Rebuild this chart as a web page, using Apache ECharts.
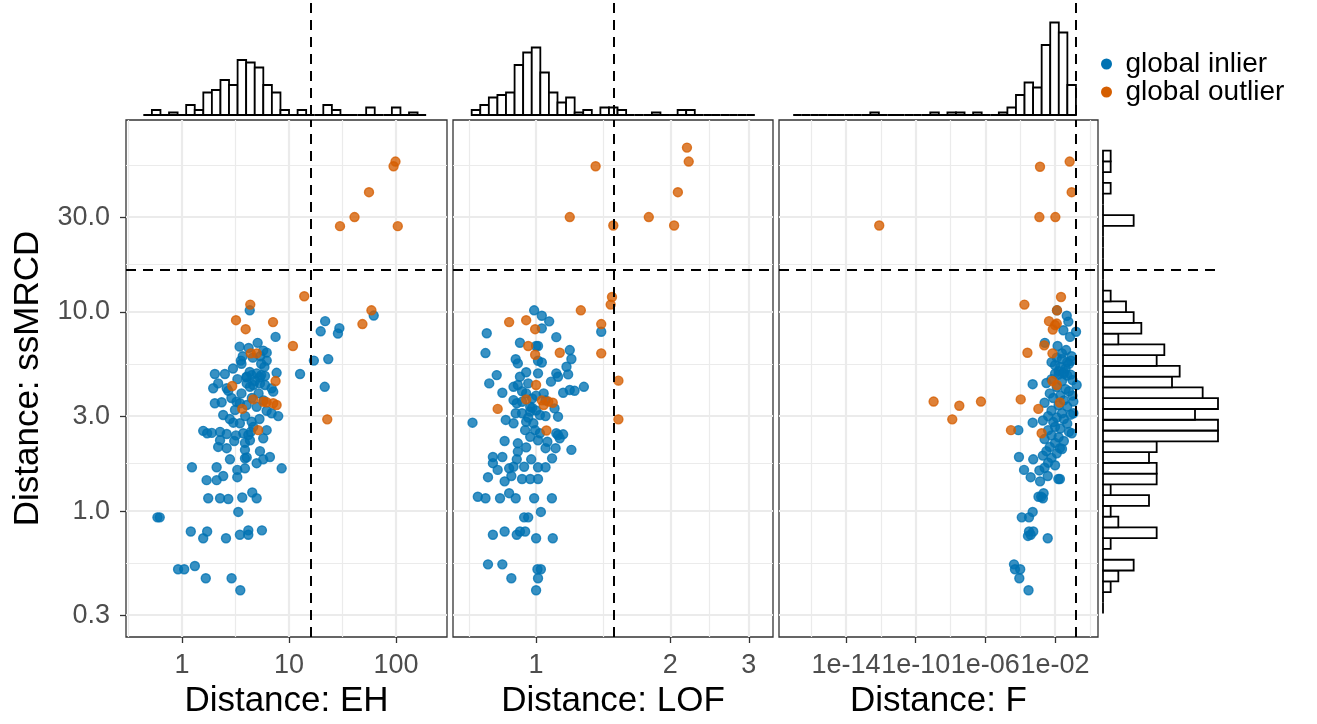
<!DOCTYPE html>
<html>
<head>
<meta charset="utf-8">
<script src="https://cdn.jsdelivr.net/npm/echarts@6/dist/echarts.min.js"></script>
<style>
  html, body { margin: 0; padding: 0; background: #fff; }
  #chart { width: 1317px; height: 724px; }
</style>
</head>
<body>
<div id="chart"></div>
<script>
// tick marks of the axes
const yTicks = [0.3, 1, 3, 10, 30];
const yMinor = [0.548, 1.73, 5.48, 17.3, 54.8];
const ehTicks = [1, 10, 100];
const ehMinor = [0.316, 3.16, 31.6];
const lofTicks = [1, 2, 3];
const lofMinor = [0.707, 1.414, 2.449];
const fTicks = [1e-14, 1e-10, 1e-6, 1e-2];
const fMinor = [1e-16, 1e-12, 1e-8, 1e-4, 1];

// cut-off values (dashed lines)
const cutEH = 16, cutLOF = 1.49, cutF = 0.16, cutSS = 16.3;

// points: [distance, ssMRCD]
const ehInlier = [
  [4.3,10.2],[62,9.6],[21.8,9.0],[19.8,8.0],[29.6,8.3],[28.7,7.8],[7.5,7.5],[3.46,6.7],[5.1,7.0],[5.75,6.4],
  [6.2,6.25],[3.55,5.7],[3.6,5.5],[6.2,5.7],[5.5,5.5],[5.9,5.3],[17.1,5.7],[23.3,5.8],[4.3,5.0],[4.0,4.7],[5.35,4.7],
  [2.03,4.88],[2.52,4.88],[4.03,4.73],[4.48,4.82],[4.99,4.92],[5.5,4.82],[5.97,4.77],[7.67,4.95],[12.7,4.88],[21.6,4.21],
  [2.18,4.38],[2.62,4.14],[2.71,4.02],[1.96,4.14],[4.03,4.38],[4.32,4.21],[4.64,4.30],[5.36,4.38],[5.97,4.30],[6.89,4.14],[7.13,3.98],
  [2.03,3.48],[2.35,3.52],[3.24,3.54],[3.48,3.48],[4.03,3.41],[3.13,3.22],[4.99,3.34],[6.19,3.19],[6.89,3.10],[7.94,3.00],
  [2.43,3.04],[3.02,2.78],[3.48,2.76],[4.48,2.81],[4.64,2.65],[1.58,2.53],[1.72,2.46],[1.90,2.47],[2.27,2.50],[2.62,2.44],
  [3.74,2.46],[4.17,2.41],[5.75,2.32],[6.19,2.55],[2.27,2.27],[2.18,2.10],[2.62,2.07],[3.08,2.25],[3.88,2.20],[4.32,2.27],
  [3.88,2.03],[5.36,2.00],[2.81,1.82],[3.88,1.84],[4.03,1.86],[4.99,1.74],[5.75,1.82],[6.64,1.87],[8.55,1.64],[1.24,1.66],
  [2.11,1.66],[1.70,1.43],[2.11,1.43],[2.43,1.50],[3.29,1.48],[3.29,1.61],[3.88,1.64],[1.76,1.16],[2.27,1.16],[2.71,1.15],
  [3.66,1.17],[4.54,1.24],[4.99,1.16],[3.36,0.99],[0.59,0.93],[0.62,0.93],[1.21,0.79],[1.72,0.79],[1.58,0.73],[2.58,0.73],
  [3.48,0.76],[4.17,0.80],[4.17,0.76],[5.59,0.80],[0.92,0.51],[1.05,0.51],[1.32,0.53],[1.67,0.46],[2.91,0.46],[3.51,0.40],
  [3.7,6.0],[4.6,5.9],[4.2,6.6],[5.4,6.0],[3.0,5.2],[3.3,4.6],[4.8,4.5],[5.2,3.9],[3.6,3.9],[2.9,3.7],
  [4.5,3.7],[5.8,3.6],[3.9,3.0],[5.3,2.9],[2.8,2.9],[4.4,2.5],[3.2,2.4]
];
const ehOutlier = [
  [99,57],[95,54],[56,40],[41,30],[30,27],[104,27],[13.9,12],[4.35,10.9],[59,10.2],[3.2,9.1],
  [7.1,8.9],[3.94,8.2],[48.6,8.7],[10.9,6.75],[4.4,6.2],[5.0,6.2],[7.5,4.5],[2.95,4.25],[4.64,3.64],[5.75,3.54],
  [6.19,3.52],[7.13,3.48],[7.67,3.41],[3.66,3.26],[22.8,2.89],[5.16,2.55]
];
const lofInlier = [
  [0.99,10.2],[1.03,9.58],[1.07,8.98],[1.03,8.28],[0.775,7.82],[0.92,7.01],[1.11,7.48],[1.0,6.75],[1.01,6.75],[0.77,6.22],
  [0.90,5.79],[0.91,5.52],[1.01,5.69],[1.03,5.58],[1.19,6.44],[1.20,5.81],[1.17,5.31],[1.40,7.96],[0.816,4.82],[0.95,4.98],
  [0.92,4.73],[1.11,4.92],[1.18,4.86],[1.01,4.92],
  [0.785,4.38],[0.84,3.93],[0.89,4.21],[0.91,4.30],[0.96,4.38],[1.08,4.47],[1.12,4.73],[1.15,3.93],[1.19,4.06],[1.22,4.02],[1.28,4.21],
  [0.89,3.61],[0.93,3.54],[0.905,3.48],[0.98,3.68],[0.97,3.34],[0.90,3.10],[0.93,3.10],[0.97,3.16],[1.02,3.04],[1.05,3.00],
  [1.10,3.28],[1.12,2.98],[0.72,2.78],[0.855,2.87],[0.89,2.76],[0.95,2.81],[0.986,2.76],[0.945,2.55],[0.995,2.55],[1.02,2.46],
  [0.97,2.36],[1.01,2.27],[1.06,2.23],[1.12,2.41],[1.13,2.32],[1.11,2.46],[1.15,2.43],[0.85,2.25],[0.91,2.19],[0.95,2.09],
  [0.91,1.99],[1.05,2.07],[1.106,2.07],[1.20,2.03],[0.80,1.87],[0.84,1.87],[0.905,1.82],[0.975,1.82],[0.80,1.74],[0.82,1.61],
  [0.87,1.64],[0.89,1.67],[0.94,1.67],[1.01,1.66],[1.05,1.66],[1.086,1.84],[0.78,1.48],[0.85,1.41],[0.88,1.50],[0.93,1.45],
  [0.97,1.45],[1.01,1.45],[0.74,1.18],[0.77,1.16],[0.83,1.16],[0.87,1.23],[0.90,1.16],[0.99,1.16],[1.085,1.16],[1.025,0.99],
  [0.94,0.93],[0.96,0.93],[0.80,0.76],[0.85,0.79],[0.905,0.76],[0.92,0.79],[0.945,0.79],[1.0,0.73],[1.09,0.73],[0.78,0.54],
  [0.84,0.54],[1.007,0.51],[1.025,0.51],[0.88,0.46],[1.01,0.46],[1.0,0.40],
  [0.95,3.9],[1.0,3.8],[0.98,3.3],[1.04,3.9],[0.93,4.0],[1.0,3.2],[0.96,2.95],[1.05,3.6]
];
const lofOutlier = [
  [2.18,67],[2.20,57],[1.36,54],[2.08,40],[1.19,30],[1.79,30],[1.49,27.2],[2.04,27.2],[1.48,11.9],[1.47,10.9],
  [1.26,10.2],[1.40,8.7],[0.87,8.9],[0.95,9.1],[0.995,8.2],[0.96,6.75],[1.13,6.24],[1.40,6.2],[0.995,6.1],[1.53,4.52],
  [1.53,2.89],[1.0,4.30],[0.95,3.64],[1.03,3.6],[1.065,3.55],[1.09,3.5],[1.04,3.41],[0.82,3.26],[1.055,2.54]
];
const fInlier = [
  [1.29e-2,10.2],[4.7e-2,9.58],[5.8e-2,8.95],[3.0e-2,8.1],[7.2e-2,7.5],[1.6e-1,7.96],[2.6e-3,7.0],[1.4e-2,6.75],[4.3e-2,6.44],[8.3e-2,5.69],
  [1.26e-2,5.9],[2.5e-2,5.8],[5.0e-2,5.6],[1.0e-2,5.4],[2.0e-2,5.3],[4.0e-2,5.2],[6.3e-2,5.5],[1.6e-2,5.05],[3.2e-2,5.0],[8.9e-2,6.0],
  [2.5e-2,6.2],[6.3e-3,5.6],[5.2e-4,4.34],[1.74e-1,4.3],[1.12e-1,3.55],[1.12e-1,3.1],[9.1e-2,2.46],[5.2e-4,2.78],[7.8e-5,2.55],[8.5e-5,1.87],
  [5.6e-4,1.82],[1.66e-4,1.61],[4.0e-4,1.48],[1.38e-3,1.41],[3.8e-3,1.50],[1.55e-2,1.45],[1.9e-2,1.45],[1.9e-2,2.07],[1.6e-3,1.18],[2.0e-3,1.16],
  [1.12e-3,1.18],[2.2e-3,1.23],[5.2e-4,0.99],[1.23e-4,0.93],[3.2e-4,0.93],[3.2e-4,0.79],[5.6e-4,0.79],[4.0e-4,0.76],[2.8e-4,0.75],[3.8e-3,0.73],
  [4.4e-5,0.54],[1.0e-4,0.51],[5.0e-5,0.51],[8.9e-5,0.46],[3.0e-4,0.40],
  [1.0e-2,4.9],[1.6e-2,4.85],[3.2e-2,4.9],[5.0e-2,4.8],[7.9e-2,4.85],[6.3e-3,4.6],[2.5e-2,4.5],[1.0e-1,4.55],[3.2e-3,4.4],[1.26e-2,4.2],
  [4.0e-2,4.1],[6.3e-2,4.0],[5.0e-3,3.9],[2.0e-2,3.8],[1.0e-1,3.8],[7.9e-3,3.7],[3.2e-2,3.6],[2.5e-3,3.5],[1.6e-2,3.4],[5.0e-2,3.35],
  [6.3e-3,3.2],[2.5e-2,3.1],[7.9e-2,3.05],[4.0e-3,3.0],[1.26e-2,2.95],[3.2e-2,2.9],[2.0e-3,2.85],[7.9e-3,2.8],[5.0e-2,2.75],[1.0e-2,2.65],
  [2.0e-2,2.6],[4.0e-3,2.55],[6.3e-2,2.5],[6.3e-3,2.4],[1.6e-2,2.35],[2.5e-3,2.3],[3.2e-2,2.25],[1.0e-2,2.2],[5.0e-3,2.1],[2.5e-2,2.05],
  [3.2e-3,2.0],[1.26e-2,1.95],[2.0e-3,1.9],[6.3e-3,1.85],[4.0e-3,1.75],[1.0e-2,1.7],[2.5e-3,1.65],[1.26e-3,1.6]
];
const fOutlier = [
  [1.37e-3,53.7],[6.9e-2,57],[9.0e-2,40],[1.26e-3,30],[1.04e-2,30],[8.1e-13,27.2],[2.2e-2,11.9],[1.74e-4,10.9],[1.29e-2,10.2],[4.5e-3,9.0],
  [1.26e-2,8.75],[1.0e-2,8.6],[7.4e-3,8.17],[2.4e-3,6.8],[2.6e-4,6.24],[7.1e-3,6.2],[7.1e-3,4.5],[1.26e-2,4.3],[1.07e-9,3.55],[3.2e-8,3.38],
  [5.6e-7,3.55],[1.07e-4,3.64],[1.1e-3,3.26],[1.26e-8,2.89],[2.95e-5,2.55],[1.7e-3,2.46],[1.9e-2,3.51]
];

// marginal histograms: first bin edge (log10), bin width (log10), counts
const ehHistStart = -0.361, ehHistStep = 0.0801;
const ehHistCounts = [0,2,0,1,0,4,2,9,10,14,12,22,21,19,12,9,2,0,2,0,0,4,2,0,0,0,3,0,0,3,0,1,0];
const lofHistStart = -0.1445, lofHistStep = 0.01925;
const lofHistCounts = [2,4,7,8,9,20,25,27,17,9,5,7,1,2,0,3,3,2,0,0,0,1,0,0,2,2,0,0,0,0,0,0,0];
const fHistStart = -17.03, fHistStep = 0.4918;
const fHistCounts = [0,0,0,0,0,0,0,0,0,1,0,0,0,0,0,0,1,0,1,1,0,1,0,0,1,3,8,13,11,28,37,33,12];
const ssHistStart = -0.515, ssHistStep = 0.0541;   // bottom to top
const ssHistCounts = [0,0,1,2,4,0,1,7,2,1,6,1,7,7,6,7,15,15,12,15,13,9,10,7,8,2,5,4,3,1,0,0,0,0,0,0,4,0,0,1,0,1,1];

const FONT = '"Liberation Sans", Arial, sans-serif';
const BLUE = '#0072B2', ORANGE = '#D55E00';
const TOP = 120, HEIGHT = 517;
const Y_MIN = 0.233, Y_MAX = 92.2;

function sciLabel(v) {
  const e = Math.round(Math.log10(v));
  return '1e' + (e < 0 ? '-' : '+') + String(Math.abs(e)).padStart(2, '0');
}
function bins(start, step, counts) {
  return counts.map((c, i) => [Math.pow(10, start + i * step), Math.pow(10, start + (i + 1) * step), c]);
}
const dashed = { type: [10, 7], color: '#000', width: 2 };

const panels = [
  { name: 'Distance: EH', left: 126, width: 321, min: 0.3, max: 300, ticks: ehTicks, minor: ehMinor,
    fmt: v => String(Math.round(v)), inl: ehInlier, out: ehOutlier, cut: cutEH,
    hist: bins(ehHistStart, ehHistStep, ehHistCounts) },
  { name: 'Distance: LOF', left: 453, width: 320, min: 0.651, max: 3.40, ticks: lofTicks, minor: lofMinor,
    fmt: v => String(Math.round(v)), inl: lofInlier, out: lofOutlier, cut: cutLOF,
    hist: bins(lofHistStart, lofHistStep, lofHistCounts) },
  { name: 'Distance: F', left: 779, width: 319, min: 1.43e-18, max: 2.92, ticks: fTicks, minor: fMinor,
    fmt: sciLabel, inl: fInlier, out: fOutlier, cut: cutF,
    hist: bins(fHistStart, fHistStep, fHistCounts) }
];

function topHist(params, api) {
  const a = api.coord([api.value(0), 0]);
  const b = api.coord([api.value(1), api.value(2)]);
  return { type: 'rect', shape: { x: a[0], y: b[1], width: b[0] - a[0], height: a[1] - b[1] },
    style: { fill: '#fff', stroke: '#000', lineWidth: 1.8 } };
}
function sideHist(params, api) {
  const a = api.coord([0, api.value(0)]);
  const b = api.coord([api.value(2), api.value(1)]);
  return { type: 'rect', shape: { x: a[0], y: b[1], width: b[0] - a[0], height: a[1] - b[1] },
    style: { fill: '#fff', stroke: '#000', lineWidth: 1.8 } };
}

const grid = [], xAxis = [], yAxis = [], series = [];
panels.forEach(p => grid.push({ left: p.left, top: TOP, width: p.width, height: HEIGHT, show: true,
  borderColor: '#333', borderWidth: 1.3, backgroundColor: 'transparent' }));
panels.forEach(p => grid.push({ left: p.left, top: 0, width: p.width, height: 115 }));
grid.push({ left: 1103, top: TOP, width: 115, height: HEIGHT });

// major x axes
panels.forEach((p, i) => xAxis.push({
  type: 'log', logBase: 10, gridIndex: i, min: p.min, max: p.max,
  name: p.name, nameLocation: 'middle', nameGap: 46,
  nameTextStyle: { fontSize: 35, color: '#000', fontFamily: FONT },
  axisLine: { show: false },
  axisTick: { show: true, length: 6, customValues: p.ticks, lineStyle: { color: '#333', width: 1.3 } },
  axisLabel: { customValues: p.ticks, formatter: p.fmt, fontSize: 27, color: '#4d4d4d', margin: 15, fontFamily: FONT },
  splitLine: { show: true, lineStyle: { color: '#ebebeb', width: 2.2 } }
}));
// minor x grid lines
panels.forEach((p, i) => xAxis.push({
  type: 'log', logBase: 10, gridIndex: i, min: p.min, max: p.max, position: 'bottom',
  axisLine: { show: false }, axisTick: { show: false, customValues: p.minor },
  axisLabel: { show: false, customValues: p.minor },
  splitLine: { show: true, lineStyle: { color: '#ebebeb', width: 1.2 } }
}));
// histogram x axes
panels.forEach((p, i) => xAxis.push({ type: 'log', logBase: 10, gridIndex: 3 + i, min: p.min, max: p.max, show: false }));
xAxis.push({ type: 'value', gridIndex: 6, min: 0, max: 15, show: false });

// major y axes
panels.forEach((p, i) => yAxis.push({
  type: 'log', logBase: 10, gridIndex: i, min: Y_MIN, max: Y_MAX,
  name: i === 0 ? 'Distance: ssMRCD' : '', nameLocation: 'middle', nameGap: 80, nameRotate: 90,
  nameTextStyle: { fontSize: 35, color: '#000', fontFamily: FONT },
  axisLine: { show: false },
  axisTick: { show: i === 0, length: 6, customValues: yTicks, lineStyle: { color: '#333', width: 1.3 } },
  axisLabel: { show: i === 0, customValues: yTicks, formatter: v => v.toFixed(1), fontSize: 27,
    color: '#4d4d4d', margin: 16, fontFamily: FONT },
  splitLine: { show: true, lineStyle: { color: '#ebebeb', width: 2.2 } }
}));
panels.forEach((p, i) => yAxis.push({
  type: 'log', logBase: 10, gridIndex: i, min: Y_MIN, max: Y_MAX, position: 'left',
  axisLine: { show: false }, axisTick: { show: false, customValues: yMinor },
  axisLabel: { show: false, customValues: yMinor },
  splitLine: { show: true, lineStyle: { color: '#ebebeb', width: 1.2 } }
}));
panels.forEach((p, i) => yAxis.push({ type: 'value', gridIndex: 3 + i, min: 0, max: 46, show: false }));
yAxis.push({ type: 'log', logBase: 10, gridIndex: 6, min: Y_MIN, max: Y_MAX, show: false });

panels.forEach((p, i) => {
  series.push({ type: 'scatter', name: 'global inlier', xAxisIndex: i, yAxisIndex: i, data: p.inl,
    symbolSize: 9, itemStyle: { color: BLUE, opacity: 0.78, borderColor: BLUE, borderWidth: 1.4 } });
  series.push({ type: 'scatter', name: 'global outlier', xAxisIndex: i, yAxisIndex: i, data: p.out,
    symbolSize: 9, itemStyle: { color: ORANGE, opacity: 0.78, borderColor: ORANGE, borderWidth: 1.4 },
    markLine: { silent: true, symbol: 'none', label: { show: false }, lineStyle: dashed,
      data: [{ xAxis: p.cut }, { yAxis: cutSS }] } });
  series.push({ type: 'custom', xAxisIndex: 6 + i, yAxisIndex: 6 + i, renderItem: topHist,
    encode: { x: [0, 1], y: 2 }, data: p.hist,
    markLine: { silent: true, symbol: 'none', label: { show: false }, lineStyle: dashed, data: [{ xAxis: p.cut }] } });
});
series.push({ type: 'custom', xAxisIndex: 9, yAxisIndex: 9, renderItem: sideHist,
  encode: { y: [0, 1], x: 2 }, data: bins(ssHistStart, ssHistStep, ssHistCounts),
  markLine: { silent: true, symbol: 'none', label: { show: false }, lineStyle: dashed, data: [{ yAxis: cutSS }] } });

const chart = echarts.init(document.getElementById('chart'));
chart.setOption({
  animation: false,
  backgroundColor: '#fff',
  legend: {
    data: ['global inlier', 'global outlier'], orient: 'vertical', left: 1101, top: 50, padding: 0,
    icon: 'circle', itemWidth: 28, itemHeight: 11, itemGap: 0,
    itemStyle: { opacity: 1, borderWidth: 0 },
    textStyle: { fontSize: 28, color: '#000', fontFamily: FONT, lineHeight: 26 }
  },
  grid, xAxis, yAxis, series
});
</script>
</body>
</html>
